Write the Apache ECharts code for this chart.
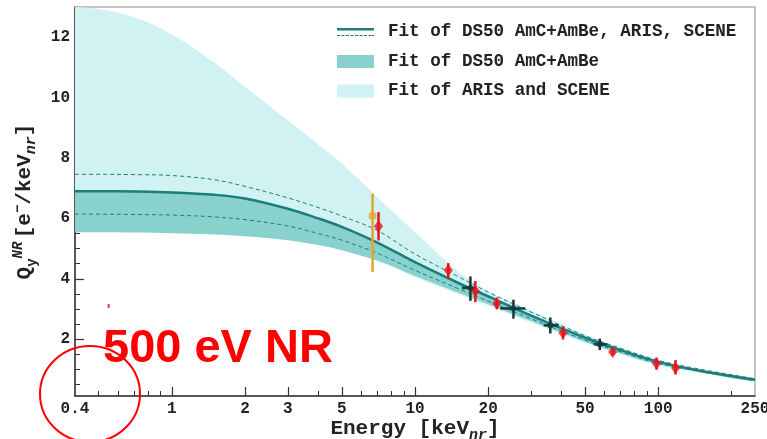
<!DOCTYPE html>
<html>
<head>
<meta charset="utf-8">
<title>Qy NR</title>
<script src="https://cdn.jsdelivr.net/npm/echarts@6.0.0/dist/echarts.min.js"></script>
</head>
<body style="margin:0;background:#fff">
<div id="main" style="width:767px;height:439px;"></div>
<script type="text/javascript">
// energies (keV_nr) at which the fit curves / bands were read
var bandEnergy = [0.4, 0.5, 0.7, 1, 1.5, 2, 3, 4, 5, 7, 10, 15, 20, 30, 50, 70, 100, 150, 250];

// ARIS + SCENE fit band
var arisHi = [13.0, 12.93, 12.66, 12.1, 11.15, 10.35, 9.25, 8.45, 7.82, 6.7, 5.55, 4.25, 3.6, 2.95, 2.15, 1.72, 1.32, 1.02, 0.71];
var arisLo = [5.8, 5.8, 5.79, 5.77, 5.72, 5.65, 5.5, 5.3, 5.1, 4.65, 4.05, 3.5, 3.12, 2.55, 1.88, 1.5, 1.14, 0.89, 0.6];
// DS50 AmC+AmBe fit band
var ds50Hi = [6.93, 6.93, 6.92, 6.89, 6.81, 6.69, 6.35, 6.03, 5.75, 5.23, 4.58, 3.91, 3.46, 2.82, 2.08, 1.67, 1.28, 0.98, 0.69];
var ds50Lo = [5.54, 5.54, 5.53, 5.51, 5.47, 5.41, 5.28, 5.12, 4.95, 4.6, 4.1, 3.55, 3.16, 2.6, 1.92, 1.53, 1.16, 0.9, 0.6];
// combined fit (solid) and its band (dashed)
var fitAll = [6.9, 6.9, 6.89, 6.86, 6.78, 6.66, 6.32, 6.0, 5.72, 5.2, 4.55, 3.87, 3.42, 2.78, 2.05, 1.64, 1.25, 0.95, 0.66];
var fitAllHi = [7.46, 7.46, 7.45, 7.42, 7.28, 7.06, 6.68, 6.36, 6.08, 5.6, 4.82, 4.08, 3.56, 2.9, 2.12, 1.7, 1.3, 1.0, 0.69];
var fitAllLo = [6.14, 6.14, 6.13, 6.11, 6.05, 5.96, 5.75, 5.5, 5.28, 4.85, 4.28, 3.68, 3.26, 2.68, 1.97, 1.58, 1.2, 0.93, 0.63];

// red points (vertical errors)
var redE = [7.08, 13.7, 17.7, 21.7, 40.6, 65.0, 98.4, 117.8];
var redQ = [5.74, 4.28, 3.60, 3.18, 2.21, 1.58, 1.20, 1.05];
var redLo = [5.27, 4.01, 3.23, 2.99, 1.99, 1.47, 0.99, 0.83];
var redHi = [6.21, 4.52, 3.93, 3.38, 2.41, 1.70, 1.39, 1.31];

// dark crosses (errors in both directions)
var crossE = [16.9, 25.4, 36.0, 57.5];
var crossQ = [3.70, 3.02, 2.46, 1.83];
var crossQlo = [3.27, 2.68, 2.19, 1.64];
var crossQhi = [4.08, 3.31, 2.72, 2.02];
var crossElo = [15.6, 22.4, 33.8, 54.3];
var crossEhi = [17.7, 28.4, 39.0, 61.7];

// orange point
var orangeE = [6.69];
var orangeQ = [6.08];
var orangeLo = [4.23];
var orangeHi = [6.82];

// small red mark
var markE = [0.55];
var markQ = [3.1];

var xLabels = [0.4, 1, 2, 3, 5, 10, 20, 50, 100, 250];
var xMajorTicks = [1, 2, 3, 5, 10, 20, 50, 100];
var xMinorTicks = [0.5, 0.6, 0.7, 0.8, 0.9, 4, 6, 7, 8, 9, 30, 40, 60, 70, 80, 90, 200];
var yLabels = [2, 4, 6, 8, 10, 12];
var yMinorTicks = [0.5, 1, 1.5, 2.5, 3, 3.5, 4.5, 5, 5.5, 6.5, 7, 7.5, 8.5, 9, 9.5, 10.5, 11, 11.5, 12.5];

var nameAll = 'Fit of DS50 AmC+AmBe, ARIS, SCENE';
var nameDS50 = 'Fit of DS50 AmC+AmBe';
var nameAris = 'Fit of ARIS and SCENE';

var mono = 'Liberation Mono';
var teal = '#1d7d7b';

var myChart = echarts.init(document.getElementById('main'));

function zip(xs, ys) {
    return xs.map(function (x, i) { return [x, ys[i]]; });
}

// filled band: upper edge left->right, lower edge right->left, drawn as one open smoothed outline
function bandSeries(name, lo, hi, color, z) {
    return {
        name: name,
        type: 'custom',
        coordinateSystem: 'cartesian2d',
        z: z,
        silent: true,
        itemStyle: { color: color },
        data: bandEnergy.map(function (e, i) { return [e, lo[i], hi[i]]; }),
        encode: { x: 0, y: [1, 2] },
        renderItem: function (params, api) {
            if (params.dataIndex !== 0) return null;
            var pts = [];
            for (var i = 0; i < bandEnergy.length; i++) pts.push(api.coord([bandEnergy[i], hi[i]]));
            for (var j = bandEnergy.length - 1; j >= 0; j--) pts.push(api.coord([bandEnergy[j], lo[j]]));
            var cs = params.coordSys;
            return {
                type: 'polyline',
                shape: { points: pts, smooth: 0.35 },
                style: { fill: color, stroke: null, lineWidth: 0 },
                clipPath: { type: 'rect', shape: { x: cs.x, y: cs.y, width: cs.width, height: cs.height } }
            };
        }
    };
}

function errSeries(xs, lo, hi, xlo, xhi, color, width, z) {
    return {
        type: 'custom',
        coordinateSystem: 'cartesian2d',
        z: z,
        silent: true,
        data: xs.map(function (x, i) {
            return [x, lo[i], hi[i], xlo ? xlo[i] : x, xhi ? xhi[i] : x];
        }),
        encode: { x: [0, 3, 4], y: [1, 2] },
        renderItem: function (params, api) {
            var x = api.value(0);
            var a = api.coord([x, api.value(1)]);
            var b = api.coord([x, api.value(2)]);
            var children = [{
                type: 'line',
                shape: { x1: a[0], y1: a[1], x2: b[0], y2: b[1] },
                style: { stroke: color, lineWidth: width }
            }];
            if (xlo) {
                var c = api.coord([api.value(3), crossQ[params.dataIndex]]);
                var d = api.coord([api.value(4), crossQ[params.dataIndex]]);
                children.push({
                    type: 'line',
                    shape: { x1: c[0], y1: c[1], x2: d[0], y2: d[1] },
                    style: { stroke: color, lineWidth: width }
                });
            }
            return { type: 'group', children: children };
        }
    };
}

function lineSeries(name, ys, type, width, z) {
    return {
        name: name,
        type: 'line',
        data: zip(bandEnergy, ys),
        smooth: 0.35,
        showSymbol: false,
        symbol: 'none',
        silent: true,
        z: z,
        itemStyle: { color: teal },
        lineStyle: { color: teal, width: width, type: type }
    };
}

var richName = {
    b: { fontFamily: mono, fontWeight: 'bold', fontSize: 21, color: '#222', lineHeight: 28, verticalAlign: 'middle' },
    sup: { fontFamily: mono, fontWeight: 'bold', fontSize: 14, color: '#222', lineHeight: 28, verticalAlign: 'top' },
    sub: { fontFamily: mono, fontWeight: 'bold', fontSize: 14, color: '#222', lineHeight: 28, verticalAlign: 'bottom' },
    subi: { fontFamily: mono, fontWeight: 'bold', fontStyle: 'italic', fontSize: 15, color: '#222', lineHeight: 28, verticalAlign: 'bottom' },
    supi: { fontFamily: mono, fontWeight: 'bold', fontStyle: 'italic', fontSize: 14, color: '#222', lineHeight: 28, verticalAlign: 'top' }
};

var iconAll = 'path://M0,0H37V2.6H0Z' +
    'M0,7H3V8.2H0Z M4.5,7H7.5V8.2H4.5Z M9,7H12V8.2H9Z M13.5,7H16.5V8.2H13.5Z M18,7H21V8.2H18Z' +
    'M22.5,7H25.5V8.2H22.5Z M27,7H30V8.2H27Z M31.5,7H34.5V8.2H31.5Z M35,7H37V8.2H35Z';

var option = {
    backgroundColor: '#fff',
    animation: false,
    grid: {
        left: 75, right: 12, top: 7, bottom: 43,
        outerBoundsMode: 'none',
        containLabel: false,
        show: true, borderColor: '#888', borderWidth: 1
    },
    legend: {
        orient: 'vertical',
        left: 337,
        top: 23,
        padding: 0,
        itemWidth: 37,
        itemHeight: 13,
        itemGap: 11.5,
        selectedMode: false,
        textStyle: { fontFamily: mono, fontWeight: 'bold', fontSize: 17.6, color: '#222', padding: [0, 0, 0, 9] },
        data: [
            { name: nameAll, icon: iconAll },
            { name: nameDS50, icon: 'rect' },
            { name: nameAris, icon: 'rect' }
        ]
    },
    xAxis: [{
        type: 'log',
        logBase: 10,
        min: 0.4,
        max: 250,
        name: '{b|Energy [keV}{subi|nr}{b|]}',
        nameLocation: 'middle',
        nameGap: 19,
        nameMoveOverlap: false,
        nameTextStyle: { rich: richName },
        axisLine: { lineStyle: { color: '#333', width: 1.5 } },
        axisTick: { inside: true, length: 9, customValues: xMajorTicks, lineStyle: { color: '#333', width: 1.2 } },
        axisLabel: {
            customValues: xLabels,
            showMinLabel: true, showMaxLabel: true, hideOverlap: false,
            margin: 5,
            fontFamily: mono, fontWeight: 'bold', fontSize: 16, color: '#222'
        },
        splitLine: { show: false },
        minorTick: { show: false }
    }, {
        type: 'log',
        logBase: 10,
        min: 0.4,
        max: 250,
        position: 'bottom',
        axisLine: { show: false },
        axisTick: { inside: true, length: 5, customValues: xMinorTicks, lineStyle: { color: '#333', width: 1 } },
        axisLabel: { show: false },
        splitLine: { show: false }
    }],
    yAxis: [{
        type: 'value',
        min: 0.12,
        max: 13,
        name: '{b|Q}{sub|y}{supi|NR} {b|[e}{sup|−}{b|/keV}{subi|nr}{b|]}',
        nameLocation: 'middle',
        nameGap: 36,
        nameMoveOverlap: false,
        nameTextStyle: { rich: richName },
        axisLine: { show: true, lineStyle: { color: '#333', width: 1.5 } },
        axisTick: { show: true, inside: true, length: 9, customValues: yLabels, lineStyle: { color: '#333', width: 1.2 } },
        axisLabel: {
            customValues: yLabels,
            margin: 5,
            fontFamily: mono, fontWeight: 'bold', fontSize: 16, color: '#222'
        },
        splitLine: { show: false }
    }, {
        type: 'value',
        min: 0.12,
        max: 13,
        position: 'left',
        axisLine: { show: false },
        axisTick: { show: true, inside: true, length: 5, customValues: yMinorTicks, lineStyle: { color: '#333', width: 1 } },
        axisLabel: { show: false },
        splitLine: { show: false }
    }],
    series: [
        bandSeries(nameAris, arisLo, arisHi, '#d0f2f2', 1),
        bandSeries(nameDS50, ds50Lo, ds50Hi, '#88d1cd', 2),
        lineSeries(nameAll, fitAll, 'solid', 2.5, 4),
        lineSeries('upper', fitAllHi, [4, 3], 1, 3),
        lineSeries('lower', fitAllLo, [4, 3], 1, 3),
        errSeries(orangeE, orangeLo, orangeHi, null, null, '#e3a531', 2.5, 5),
        errSeries(redE, redLo, redHi, null, null, '#e8141a', 2.5, 5),
        errSeries(crossE, crossQlo, crossQhi, crossElo, crossEhi, '#173a3a', 2.5, 5),
        {
            type: 'scatter', data: zip(orangeE, orangeQ), symbol: 'circle', symbolSize: 8,
            itemStyle: { color: '#e3a531' }, z: 6, silent: true
        },
        {
            type: 'scatter', data: zip(redE, redQ), symbol: 'diamond', symbolSize: [9, 12],
            itemStyle: { color: '#e8141a' }, z: 6, silent: true
        },
        {
            type: 'scatter', data: zip(crossE, crossQ), symbol: 'circle', symbolSize: 6,
            itemStyle: { color: '#173a3a' }, z: 6, silent: true
        },
        {
            type: 'scatter', data: zip(markE, markQ), symbol: 'rect', symbolSize: [2, 4],
            itemStyle: { color: '#d01818' }, z: 6, silent: true
        }
    ],
    graphic: [
        {
            type: 'text', left: 103, top: 326, z: 100,
            style: { text: '500 eV NR', fill: '#ff0000', font: 'bold 47px "Liberation Sans"' }
        },
        {
            type: 'ellipse', z: 100,
            shape: { cx: 90, cy: 394, rx: 50, ry: 48 },
            style: { fill: null, stroke: '#ff0000', lineWidth: 2 }
        }
    ]
};

myChart.setOption(option);
</script>
</body>
</html>
